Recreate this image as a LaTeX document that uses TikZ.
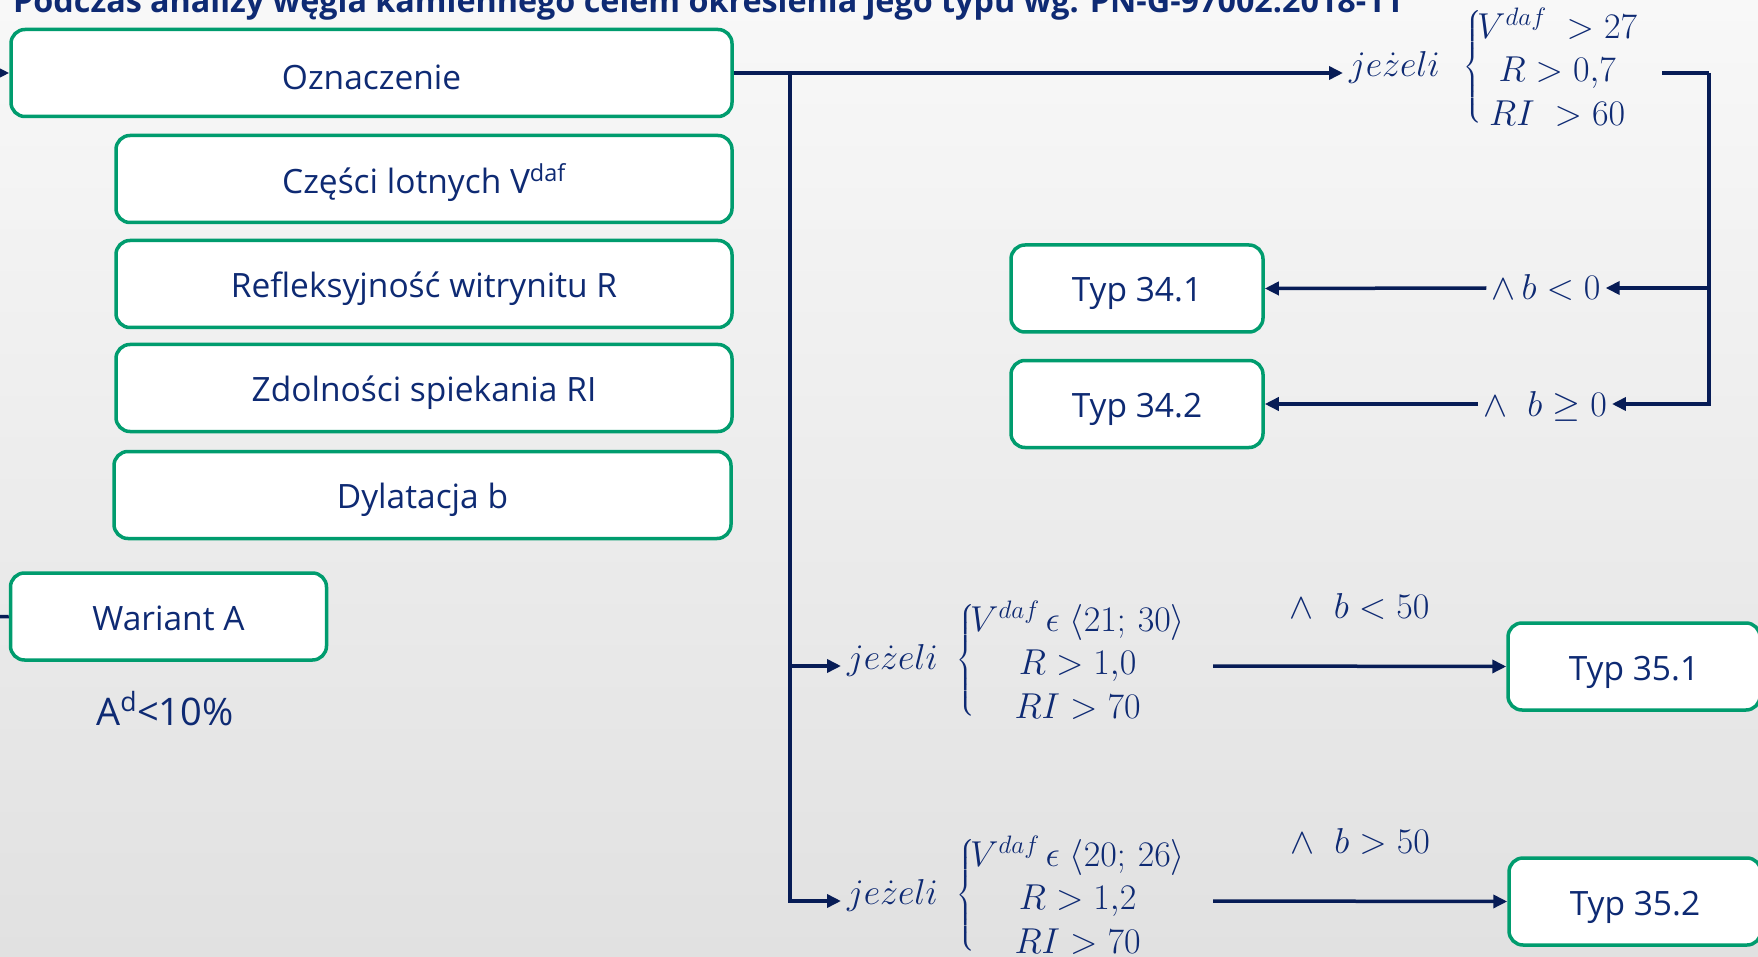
\RequirePackage{fix-cm}
\documentclass[tikz,border=0pt]{standalone}
\usepackage{exscale}
\usepackage{fontspec}
\setmainfont{Open Sans}
\usetikzlibrary{arrows.meta}
\definecolor{navytext}{RGB}{14,42,115}
\definecolor{navyline}{RGB}{7,28,86}
\definecolor{boxgreen}{RGB}{0,156,110}
\definecolor{bgtop}{RGB}{248,248,248}
\definecolor{bgbot}{RGB}{225,225,225}
\begin{document}
\begin{tikzpicture}[x=1pt,y=-1pt,
  box/.style={draw=boxgreen, line width=3.5pt, rounded corners=14pt, fill=white,
    text=navytext, font=\fontsize{33.5}{40}\selectfont, minimum height=87pt,
    text height=27pt, text depth=0pt, inner sep=0pt},
  link/.style={draw=navyline, line width=3.5pt},
  arr/.style={link, -{Triangle[length=14pt,width=13pt]}},
  mathfont/.style={text=navytext, font=\fontsize{36}{43.5}\selectfont},
  cond/.style={mathfont, inner sep=0pt, anchor=west},
  brace/.style={text=navytext, font=\fontsize{20}{24}\selectfont, inner sep=0pt, anchor=west},
  jez/.style={mathfont, anchor=west, inner xsep=6pt, inner ysep=0pt,
    text height=11pt, text depth=4pt},
  lab/.style={mathfont, inner xsep=5pt, inner ysep=0pt, text height=24pt, text depth=0pt},
]
\useasboundingbox (0,0) rectangle (1758,957);
\shade[top color=bgtop, bottom color=bgbot] (0,0) rectangle (1758,957);

% heading (runs off the top edge)
\node[anchor=base west, inner sep=0pt, text=navytext,
  font=\bfseries\fontsize{32.3}{38}\selectfont] (title) at (13,13)
  {Podczas analizy węgla kamiennego celem określenia jego typu wg. PN-G-97002:2018-11};

% left column
\node[box, minimum width=721pt, text height=34pt] (ozn) at (371.5,73) {Oznaczenie};
\node[box, minimum width=616pt, text height=30pt] (czesci) at (424,179) {Części lotnych V\textsuperscript{daf}};
\node[box, minimum width=616pt] (refl) at (424,284) {Refleksyjność witrynitu R};
\node[box, minimum width=616pt] (zdol) at (424,388) {Zdolności spiekania RI};
\node[box, minimum width=617pt] (dyl) at (422.5,495) {Dylatacja b};
\node[box, minimum width=316pt] (wariant) at (168.5,616.5) {Wariant A};
\node[anchor=base, inner sep=0pt, text=navytext, font=\fontsize{38}{44}\selectfont]
  (ad) at (165,725) {A\textsuperscript{d}<10\%};

% result boxes
\node[box, minimum width=252pt] (t341) at (1137,288.5) {Typ 34.1};
\node[box, minimum width=252pt] (t342) at (1137,404) {Typ 34.2};
\node[box, minimum width=252pt] (t351) at (1634,666.5) {Typ 35.1};
\node[box, minimum width=252pt] (t352) at (1635,901.5) {Typ 35.2};

% conditions
\node[jez] (j1) at (1343,73) {$je\dot{z}eli$};
\node[brace] (b1) at (1463,67) {$\left\{\vcenter{\hbox{\rule{0pt}{106pt}}}\right.$};
\node[cond] (c1) at (1477,73) {$\begin{array}{@{}c@{}}
  V^{daf}\;>27\\ R>0{,}7\\ RI\;>60\end{array}$};
\node[jez] (j2) at (841,666) {$je\dot{z}eli$};
\node[brace] (b2) at (956,660) {$\left\{\vcenter{\hbox{\rule{0pt}{106pt}}}\right.$};
\node[cond] (c2) at (970,666) {$\begin{array}{@{}c@{}}
  V^{daf}\,\epsilon\;\langle 21;\,30\rangle\\ R>1{,}0\\ RI>70\end{array}$};
\node[jez] (j3) at (841,901) {$je\dot{z}eli$};
\node[brace] (b3) at (956,895) {$\left\{\vcenter{\hbox{\rule{0pt}{106pt}}}\right.$};
\node[cond] (c3) at (970,901) {$\begin{array}{@{}c@{}}
  V^{daf}\,\epsilon\;\langle 20;\,26\rangle\\ R>1{,}2\\ RI>70\end{array}$};

\node[lab] (l1) at (1546,288) {${\wedge}\,b<0$};
\node[lab] (l2) at (1545,404) {${\wedge}\;\;b\geq 0$};

% connectors
\coordinate (in1) at (-20,73);
\coordinate (in2) at (-20,617);
\coordinate (trunk) at (790,73);
\coordinate (c1out) at (1662,73);
\coordinate (rc) at (1709,73);
\coordinate (c2out) at (1213,666);
\coordinate (c3out) at (1213,901);

\draw[arr] (in1) -- (ozn.west);
\draw[link] (in2) -- (wariant.west);
\draw[arr] (ozn.east) -- (j1.west);
\draw[arr] (trunk) |- (j2.west);
\draw[arr] (trunk) |- (j3.west);
\draw[link] (c1out) -- (rc);
\draw[arr] (rc) |- (l1.east);
\draw[arr] (rc) |- (l2.east);
\draw[arr] (l1.west) -- (t341.east);
\draw[arr] (l2.west) -- (t342.east);
\draw[arr] (c2out) -- node[mathfont, above=45pt, inner sep=0pt] (l3)
  {${\wedge}\;\;b<50$} (t351.west);
\draw[arr] (c3out) -- node[mathfont, above=45pt, inner sep=0pt] (l4)
  {${\wedge}\;\;b>50$} (t352.west);
\end{tikzpicture}
\end{document}
